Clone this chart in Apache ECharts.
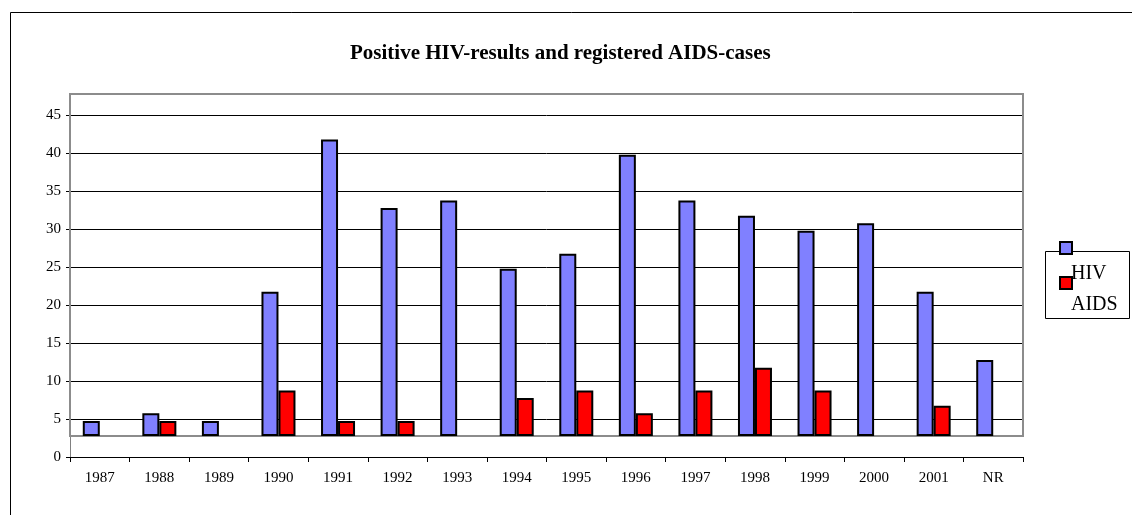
<!DOCTYPE html>
<html>
<head>
<meta charset="utf-8">
<script src="https://cdn.jsdelivr.net/npm/echarts@6/dist/echarts.min.js"></script>
<style>
  html, body { margin: 0; padding: 0; background: #fff; }
  #chart { width: 1132px; height: 515px; }
</style>
</head>
<body>
<div id="chart"></div>
<script>
// categories
const years = ['1987', '1988', '1989', '1990', '1991', '1992', '1993', '1994',
  '1995', '1996', '1997', '1998', '1999', '2000', '2001', 'NR'];
// series values (bar heights above the chart floor)
const hivCases = [2, 3, 2, 19, 39, 30, 31, 22, 24, 37, 31, 29, 27, 28, 19, 10];
const aidsCases = [null, 2, null, 6, 2, 2, null, 5, 6, 3, 6, 9, 6, null, 4, null];
// value-axis tick labels
const yTicks = [0, 5, 10, 15, 20, 25, 30, 35, 40, 45];

// the plot area (and its bars) sits a little above the axis zero
const floorLevel = 2.75;
const serif = 'Liberation Serif';

const chart = echarts.init(document.getElementById('chart'));
chart.setOption({
  animation: false,
  backgroundColor: '#fff',
  title: {
    text: 'Positive HIV-results and registered AIDS-cases',
    left: 345,
    top: 38,
    textStyle: { fontFamily: serif, fontSize: 21, fontWeight: 'bold', color: '#000' }
  },
  legend: [
    // the keys only, as in the original the symbols sit above their names
    {
      data: ['HIV', 'AIDS'],
      orient: 'vertical',
      left: 1054,
      top: 236,
      icon: 'rect',
      itemWidth: 12,
      itemHeight: 12,
      itemGap: 21,
      formatter: () => '',
      itemStyle: { borderColor: '#000', borderWidth: 2 }
    },
    // the names
    {
      data: ['HIV', 'AIDS'],
      orient: 'vertical',
      left: 1060,
      top: 259,
      icon: 'rect',
      itemWidth: 1,
      itemHeight: 1,
      itemGap: 11,
      itemStyle: { opacity: 0, borderWidth: 0 },
      textStyle: { fontFamily: serif, fontSize: 20, color: '#000' }
    }
  ],
  grid: { left: 70, right: 109, top: 94, bottom: 58 },
  xAxis: {
    type: 'category',
    data: years,
    axisLine: { lineStyle: { color: '#000', width: 1 } },
    axisTick: { show: true, length: 5, lineStyle: { color: '#000' } },
    axisLabel: { fontFamily: serif, fontSize: 15, color: '#000', margin: 14 },
    splitLine: { show: false }
  },
  yAxis: [
    {
      type: 'value',
      min: 0,
      max: 45 + floorLevel,
      interval: 5,
      axisLine: { show: true, lineStyle: { color: '#808080', width: 1 } },
      axisTick: { show: true, length: 4, customValues: yTicks, lineStyle: { color: '#000' } },
      axisLabel: {
        fontFamily: serif, fontSize: 15, color: '#000', margin: 9,
        customValues: yTicks
      },
      splitLine: { lineStyle: { color: '#000', width: 1 } }
    },
    {
      type: 'value',
      min: -floorLevel,
      max: 45,
      show: false,
      splitLine: { show: false }
    }
  ],
  series: [
    {
      name: 'HIV',
      type: 'bar',
      yAxisIndex: 1,
      data: hivCases,
      barWidth: 17,
      barGap: '0%',
      itemStyle: { color: '#8080FF', borderColor: '#000', borderWidth: 2 },
      markArea: {
        silent: true,
        itemStyle: { color: 'rgba(0,0,0,0)', borderColor: '#8c8c8c', borderWidth: 2 },
        data: [[{ yAxis: 0 }, { yAxis: 45 }]]
      }
    },
    {
      name: 'AIDS',
      type: 'bar',
      yAxisIndex: 1,
      data: aidsCases,
      barWidth: 17,
      barGap: '0%',
      itemStyle: { color: '#FF0000', borderColor: '#000', borderWidth: 2 }
    }
  ],
  graphic: [
    {
      type: 'rect',
      silent: true,
      shape: { x: 10.5, y: 12.5, width: 1200, height: 600 },
      style: { fill: 'none', stroke: '#000', lineWidth: 1 }
    },
    {
      type: 'rect',
      silent: true,
      shape: { x: 1045.5, y: 251.5, width: 84, height: 67 },
      style: { fill: 'none', stroke: '#000', lineWidth: 1 }
    }
  ]
});
</script>
</body>
</html>
